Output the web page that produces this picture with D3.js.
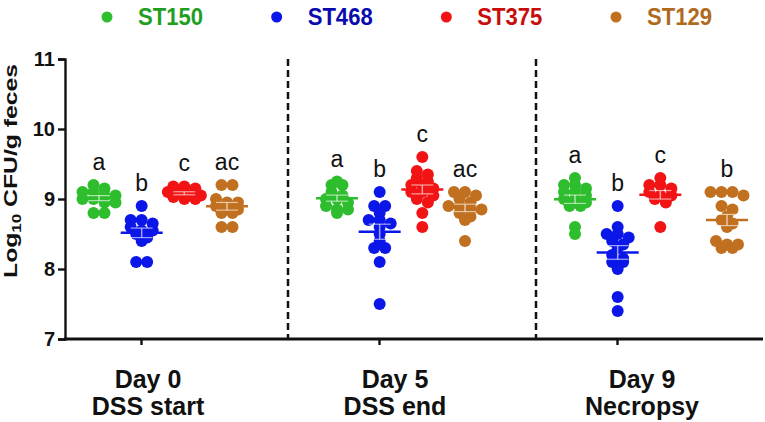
<!DOCTYPE html>
<html>
<head>
<meta charset="utf-8">
<script src="https://cdn.jsdelivr.net/npm/d3@7"></script>
<style>
  body { margin: 0; background: #fff; }
  svg { font-family: "Liberation Sans", Arial, sans-serif; }
</style>
</head>
<body>
<svg id="chart" width="765" height="422"></svg>
<script>
// ------------------------------
// data
// ------------------------------
var strains = ["ST150", "ST468", "ST375", "ST129"];
var days = ["Day 0", "Day 5", "Day 9"];
var dayNotes = ["DSS start", "DSS end", "Necropsy"];
var yTicks = [7, 8, 9, 10, 11];

// one array per strain, one inner list per day
var st150 = [[9.2, 9.15, 9.1, 9.1, 9.05, 9.05, 9.0, 9.0, 8.95, 8.95, 8.8, 8.8],
             [9.25, 9.2, 9.2, 9.1, 9.05, 9.0, 9.0, 8.95, 8.9, 8.85, 8.85, 8.8],
             [9.3, 9.2, 9.2, 9.15, 9.1, 9.1, 9.05, 9.0, 9.0, 8.95, 8.9, 8.9, 8.6, 8.5]];
var st468 = [[8.9, 8.7, 8.7, 8.65, 8.6, 8.55, 8.55, 8.5, 8.45, 8.4, 8.1, 8.1],
             [9.1, 8.9, 8.9, 8.8, 8.7, 8.7, 8.65, 8.6, 8.5, 8.4, 8.3, 8.3, 8.1, 7.5],
             [8.9, 8.6, 8.5, 8.5, 8.45, 8.4, 8.35, 8.3, 8.2, 8.15, 8.1, 8.1, 8.0, 7.6, 7.4]];
var st375 = [[9.18, 9.18, 9.15, 9.1, 9.08, 9.05, 9.05, 9.03, 9.0, 9.0],
             [9.6, 9.4, 9.35, 9.3, 9.25, 9.2, 9.2, 9.15, 9.1, 9.1, 9.05, 9.0, 8.95, 8.8, 8.6],
             [9.3, 9.2, 9.2, 9.15, 9.1, 9.05, 9.05, 9.0, 8.95, 8.6]];
var st129 = [[9.2, 9.2, 9.0, 8.95, 8.95, 8.9, 8.9, 8.85, 8.8, 8.8, 8.6, 8.6],
             [9.1, 9.1, 9.05, 9.0, 8.95, 8.9, 8.9, 8.85, 8.85, 8.8, 8.75, 8.7, 8.4],
             [9.1, 9.1, 9.1, 9.05, 8.9, 8.85, 8.75, 8.7, 8.65, 8.6, 8.4, 8.35, 8.35, 8.3, 8.3]];

// significance letters, per day in strain order
var letters = [["a", "b", "c", "ac"],
               ["a", "b", "c", "ac"],
               ["a", "b", "c", "b"]];

// ------------------------------
// styling / layout
// ------------------------------
var dotColor  = {ST150: "#2dbd2d", ST468: "#0b16e8", ST375: "#f21414", ST129: "#c0701f"};
var textColor = {ST150: "#1f9e1f", ST468: "#0a0ab0", ST375: "#c80c0c", ST129: "#b06a1e"};
var nudge = {"Day 9|ST129": 24};   // last group sits further right in the original

var svg = d3.select("#chart");

var y = d3.scaleLinear().domain([7, 11]).range([339, 59]);
var x = d3.scalePoint().domain(days).range([141, 617]);
var inner = d3.scalePoint().domain(strains).range([-42, 86]);
var xLabel = d3.scalePoint().domain(days).range([148, 642]);
var legendX = d3.scalePoint().domain(strains).range([107, 616]);

var series = {ST150: st150, ST468: st468, ST375: st375, ST129: st129};

// flatten into groups
var groups = [];
days.forEach(function (day, di) {
    strains.forEach(function (s, si) {
        var vals = series[s][di];
        groups.push({
            day: day, strain: s, values: vals, letter: letters[di][si],
            cx: x(day) + inner(s) + (nudge[day + "|" + s] || 0)
        });
    });
});

// ------------------------------
// axes
// ------------------------------
var yAxis = svg.append("g")
    .attr("transform", "translate(65,0)")
    .call(d3.axisLeft(y).tickValues(yTicks).tickFormat(d3.format("d")).tickSize(7).tickPadding(3));
yAxis.selectAll("path, line").attr("stroke", "#111").attr("stroke-width", 2.4);
yAxis.selectAll("text").attr("font-size", 20).attr("font-weight", "bold").attr("fill", "#111")
    .attr("font-family", "Liberation Sans, Arial, sans-serif");

var xAxis = svg.append("g")
    .attr("transform", "translate(0,339)")
    .call(d3.axisBottom(x).tickSize(6).tickSizeOuter(0).tickFormat(""));
xAxis.select(".domain").remove();
xAxis.selectAll("line").attr("stroke", "#111").attr("stroke-width", 2.4);

// full-width baseline
svg.append("line")
    .attr("x1", 64).attr("x2", 763)
    .attr("y1", y(7)).attr("y2", y(7))
    .attr("stroke", "#111").attr("stroke-width", 2.8);

// dashed separators between days
var seps = [x("Day 0") + 147, x("Day 5") + 157];
svg.selectAll(".sep")
    .data(seps)
  .enter().append("line")
    .attr("class", "sep")
    .attr("x1", function (d) { return d; }).attr("x2", function (d) { return d; })
    .attr("y1", y(11)).attr("y2", y(7))
    .attr("stroke", "#111").attr("stroke-width", 2.5)
    .attr("stroke-dasharray", "7,4");

// category labels, two lines
var cat = svg.selectAll(".cat")
    .data(days)
  .enter().append("text")
    .attr("class", "cat")
    .attr("text-anchor", "middle")
    .attr("font-size", 25).attr("font-weight", "bold").attr("fill", "#111");
cat.append("tspan")
    .attr("x", function (d) { return xLabel(d); }).attr("y", 388)
    .text(function (d) { return d; });
cat.append("tspan")
    .attr("x", function (d) { return xLabel(d); }).attr("y", 415)
    .text(function (d, i) { return dayNotes[i]; });

// y title
var yTitle = svg.append("text")
    .attr("transform", "translate(17,171) rotate(-90)")
    .attr("text-anchor", "middle")
    .attr("font-size", 19).attr("font-weight", "bold").attr("fill", "#111")
    .attr("textLength", 214).attr("lengthAdjust", "spacingAndGlyphs");
yTitle.append("tspan").text("Log");
yTitle.append("tspan").attr("font-size", 13).attr("dy", 4).text("10");
yTitle.append("tspan").attr("dy", -4).text(" CFU/g feces");

// ------------------------------
// legend
// ------------------------------
var leg = svg.selectAll(".legend")
    .data(strains)
  .enter().append("g")
    .attr("class", "legend")
    .attr("transform", function (d) { return "translate(" + legendX(d) + ",17)"; });
leg.append("circle").attr("r", 5.5).attr("fill", function (d) { return dotColor[d]; });
leg.append("text")
    .attr("x", 31).attr("y", 7.5)
    .attr("font-size", 23).attr("font-weight", "bold")
    .attr("textLength", 65).attr("lengthAdjust", "spacingAndGlyphs")
    .attr("fill", function (d) { return textColor[d]; })
    .text(function (d) { return d; });

// ------------------------------
// scatter (rows of points binned by value, centred like a column scatter)
// ------------------------------
var spacing = 11;
groups.forEach(function (g) {
    var rows = d3.group(g.values, function (v) { return Math.round(v * 10); });
    var pts = [];
    rows.forEach(function (vals) {
        vals.forEach(function (v, i) {
            pts.push({v: v, dx: (i - (vals.length - 1) / 2) * spacing});
        });
    });
    g.points = pts;
    g.mean = d3.mean(g.values);
    g.sem = d3.deviation(g.values) / Math.sqrt(g.values.length);
});

var grp = svg.selectAll(".grp")
    .data(groups)
  .enter().append("g")
    .attr("class", "grp");

grp.selectAll("circle")
    .data(function (g) { return g.points.map(function (p) { return {p: p, g: g}; }); })
  .enter().append("circle")
    .attr("cx", function (d) { return d.g.cx + d.p.dx; })
    .attr("cy", function (d) { return y(d.p.v); })
    .attr("r", 6)
    .attr("fill", function (d) { return dotColor[d.g.strain]; });

// mean line + SEM whiskers
grp.append("line")
    .attr("x1", function (g) { return g.cx - 21; }).attr("x2", function (g) { return g.cx + 21; })
    .attr("y1", function (g) { return y(g.mean); }).attr("y2", function (g) { return y(g.mean); })
    .attr("stroke", function (g) { return dotColor[g.strain]; }).attr("stroke-width", 2.5);
grp.append("line")
    .attr("x1", function (g) { return g.cx; }).attr("x2", function (g) { return g.cx; })
    .attr("y1", function (g) { return y(g.mean + g.sem); }).attr("y2", function (g) { return y(g.mean - g.sem); })
    .attr("stroke", "#fff").attr("stroke-width", 1.5).attr("opacity", 0.6);
grp.selectAll(".cap")
    .data(function (g) { return [g.mean + g.sem, g.mean - g.sem].map(function (v) { return {v: v, g: g}; }); })
  .enter().append("line")
    .attr("class", "cap")
    .attr("x1", function (d) { return d.g.cx - 11; }).attr("x2", function (d) { return d.g.cx + 11; })
    .attr("y1", function (d) { return y(d.v); }).attr("y2", function (d) { return y(d.v); })
    .attr("stroke", "#fff").attr("stroke-width", 1.2).attr("opacity", 0.6);

// significance letters
grp.append("text")
    .attr("x", function (g) { return g.cx; })
    .attr("y", function (g) { return y(d3.max(g.values)) - 15; })
    .attr("text-anchor", "middle")
    .attr("font-size", 23).attr("fill", "#111")
    .text(function (g) { return g.letter; });
</script>
</body>
</html>
